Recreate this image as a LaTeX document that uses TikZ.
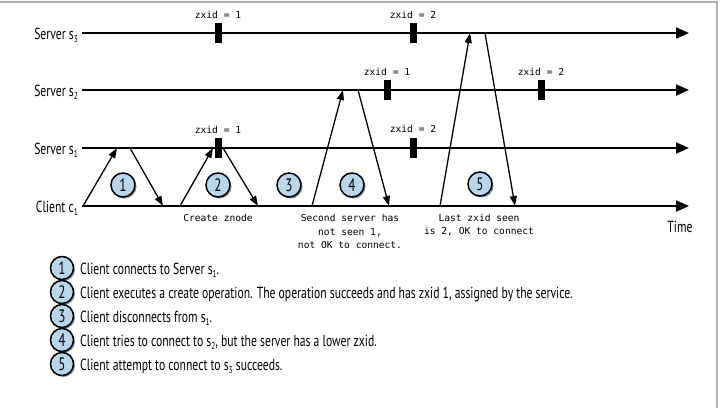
\documentclass[tikz,border=0pt]{standalone}
\usepackage{fontspec}
\setmainfont{PT Sans}[FakeStretch=0.73]
\newfontfamily\monof{DejaVu Sans Mono}
\usetikzlibrary{arrows.meta,shadows}
\definecolor{cblue}{RGB}{184,214,236}
\newcommand\mysub[1]{\raisebox{-0.45ex}{\fontsize{10}{10}\selectfont #1}}
\begin{document}
\begin{tikzpicture}[x=1pt,y=-1pt,
  tl/.style={line width=1.8pt,-{Triangle[length=13pt,width=11pt]}},
  msg/.style={line width=1.3pt,-{Triangle[length=10pt,width=7pt]}},
  zmark/.style={fill=black,minimum width=7pt,minimum height=20pt,inner sep=0pt},
  zlab/.style={font=\monof\fontsize{9.6}{13.5}\selectfont,inner sep=0pt},
  srv/.style={font=\fontsize{16}{16}\selectfont,inner sep=0pt,anchor=base east},
  num/.style={circle,draw=black,line width=1.5pt,fill=cblue,minimum size=24pt,inner sep=0pt,
    font=\fontsize{18}{18}\selectfont,
    drop shadow={shadow xshift=1.5pt,shadow yshift=-1.5pt,opacity=0.45,fill=black}},
  leg/.style={font=\fontsize{16}{16}\selectfont,inner sep=0pt,anchor=base west}]
\useasboundingbox (0,0) rectangle (720,408);
\draw[gray!60,line width=1.2pt] (0,2) -- (717,2) -- (717,408);
% labels
\node[srv] (ls3) at (78,39) {Server s\mysub{3}};
\node[srv] (ls2) at (78,96) {Server s\mysub{2}};
\node[srv] (ls1) at (78,154) {Server s\mysub{1}};
\node[srv] (lc1) at (78,212) {Client c\mysub{1}};
\node[font=\fontsize{16}{16}\selectfont,inner sep=0pt] (time) at (680,227) {Time};
% timelines
\coordinate (s3a) at (82,33); \coordinate (s3b) at (689,33);
\coordinate (s2a) at (82,90); \coordinate (s2b) at (689,90);
\coordinate (s1a) at (82,148); \coordinate (s1b) at (689,148);
\coordinate (c1a) at (82,206); \coordinate (c1b) at (689,206);
\draw[tl] (s3a) -- (s3b);
\draw[tl] (s2a) -- (s2b);
\draw[tl] (s1a) -- (s1b);
\draw[tl] (c1a) -- (c1b);
% marks
\node[zmark] (m31) at (218,33) {};
\node[zmark] (m32) at (413,33) {};
\node[zmark] (m21) at (387,90) {};
\node[zmark] (m22) at (541,90) {};
\node[zmark] (m11) at (218,148) {};
\node[zmark] (m12) at (413,148) {};
\node[zlab] (z31) at (218,15) {zxid = 1};
\node[zlab] (z32) at (413,15) {zxid = 2};
\node[zlab] (z21) at (387,72) {zxid = 1};
\node[zlab] (z22) at (541,72) {zxid = 2};
\node[zlab] (z11) at (218,130) {zxid = 1};
\node[zlab] (z12) at (413,129) {zxid = 2};
% messages
\coordinate (a1) at (83,206); \coordinate (b1) at (117,148);
\coordinate (a2) at (130,148); \coordinate (b2) at (163,206);
\coordinate (a3) at (180,206); \coordinate (b3) at (213,148);
\coordinate (a4) at (223,148); \coordinate (b4) at (258,206);
\coordinate (a5) at (312,206); \coordinate (b5) at (343,90);
\coordinate (a6) at (358,90); \coordinate (b6) at (389,206);
\coordinate (a7) at (440,206); \coordinate (b7) at (470,33);
\coordinate (a8) at (485,33); \coordinate (b8) at (515,206);
\draw[msg] (a1) -- (b1);
\draw[msg] (a2) -- (b2);
\draw[msg] (a3) -- (b3);
\draw[msg] (a4) -- (b4);
\draw[msg] (a5) -- (b5);
\draw[msg] (a6) -- (b6);
\draw[msg] (a7) -- (b7);
\draw[msg] (a8) -- (b8);
% step circles
\node[num] (n1) at (123,185) {1};
\node[num] (n2) at (218,185) {2};
\node[num] (n3) at (289,185) {3};
\node[num] (n4) at (352,185) {4};
\node[num] (n5) at (480,184) {5};
% notes
\node[zlab] (t1) at (218,218) {Create znode};
\node[zlab,align=center] (t2) at (350,231.5) {Second server has\\not seen 1,\\not OK to connect.};
\node[zlab,align=center] (t3) at (479,225) {Last zxid seen\\is 2, OK to connect};
% legend
\node[num,minimum size=23pt] (l1) at (62,268) {1};
\node[num,minimum size=23pt] (l2) at (62,292) {2};
\node[num,minimum size=23pt] (l3) at (62,316) {3};
\node[num,minimum size=23pt] (l4) at (62,340) {4};
\node[num,minimum size=23pt] (l5) at (62,364) {5};
\node[leg] (g1) at (80,274) {Client connects to Server s\mysub{1}.};
\node[leg] (g2) at (80,298) {Client executes a create operation. The operation succeeds and has zxid 1, assigned by the service.};
\node[leg] (g3) at (80,322) {Client disconnects from s\mysub{1}.};
\node[leg] (g4) at (80,346) {Client tries to connect to s\mysub{2}, but the server has a lower zxid.};
\node[leg] (g5) at (80,370) {Client attempt to connect to s\mysub{3} succeeds.};
\end{tikzpicture}
\end{document}
